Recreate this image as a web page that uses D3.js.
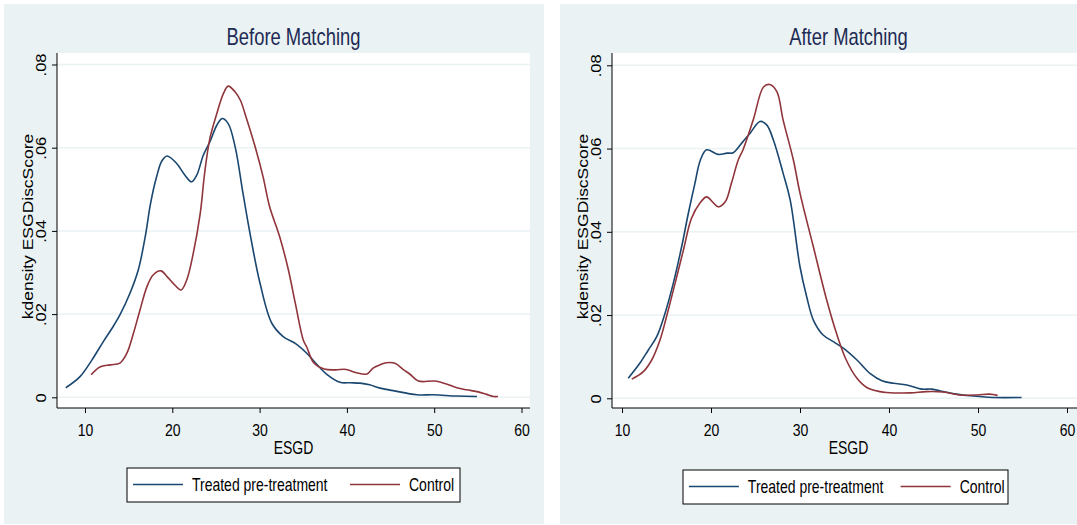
<!DOCTYPE html>
<html>
<head>
<meta charset="utf-8">
<script src="https://cdn.jsdelivr.net/npm/d3@7"></script>
<style>
  body { margin: 0; background: #fff; }
  text { font-family: "Liberation Sans", Arial, sans-serif; }
</style>
</head>
<body>
<script>
// kdensity of ESGD, treated vs control, before and after matching

// ------------------------------------------------ DATA
let xTicks = [10, 20, 30, 40, 50, 60];
let yTicks = [0, 0.02, 0.04, 0.06, 0.08];
let yTickLabels = ['0', '.02', '.04', '.06', '.08'];
let seriesNames = ['Treated pre-treatment', 'Control'];
let panelTitles = ['Before Matching', 'After Matching'];

// [ESGD, density]
let beforeTreated = [
  [7.8,0.0023],[9.4,0.0049],[10.8,0.0090],[12.1,0.0134],[13.1,0.0166],[14.0,0.0198],
  [15.15,0.0250],[16.1,0.0306],[16.9,0.0386],[17.5,0.0465],[18.2,0.0530],[18.8,0.0568],
  [19.4,0.0580],[20.5,0.0562],[21.45,0.0534],[22.2,0.0518],[22.8,0.0534],[23.55,0.0582],
  [24.3,0.0614],[25.1,0.0654],[25.7,0.0670],[26.4,0.0658],[27.2,0.0602],[28.1,0.0490],
  [28.9,0.0394],[30.05,0.0274],[31.4,0.0178],[32.7,0.0146],[34.2,0.0128],[35.4,0.0106],
  [36.3,0.0085],[37.7,0.0055],[39.2,0.0036],[40.4,0.0035],[41.5,0.0034],[42.6,0.0030],
  [43.8,0.0022],[45.3,0.0016],[48.0,0.0006],[49.9,0.0006],[52.6,0.0003],[54.9,0.0002]
];
let beforeControl = [
  [10.7,0.0054],[11.7,0.0073],[12.9,0.0078],[14.0,0.0082],[14.8,0.0106],[15.55,0.0154],
  [16.3,0.0210],[17.1,0.0266],[17.8,0.0294],[18.7,0.0304],[19.4,0.0290],[20.1,0.0274],
  [21.0,0.0258],[21.65,0.0282],[22.4,0.0346],[23.2,0.0442],[23.7,0.0538],[24.3,0.0622],
  [25.1,0.0682],[25.85,0.0730],[26.4,0.0748],[27.2,0.0734],[27.8,0.0714],[28.5,0.0670],
  [29.6,0.0594],[30.4,0.0530],[31.15,0.0458],[32.3,0.0386],[33.3,0.0306],[34.1,0.0225],
  [35.0,0.0138],[35.4,0.0121],[36.2,0.0083],[37.4,0.0068],[38.7,0.0066],[39.9,0.0067],
  [41.1,0.0059],[42.3,0.0056],[43.0,0.0070],[43.8,0.0078],[44.5,0.0083],[45.5,0.0082],
  [46.5,0.0066],[47.2,0.0056],[48.2,0.0039],[50.1,0.0039],[51.4,0.0032],[52.6,0.0023],
  [53.7,0.0018],[55.05,0.0013],[56.0,0.0007],[56.8,0.0002],[57.3,0.0002]
];
let afterTreated = [
  [10.7,0.0048],[12.0,0.0084],[12.96,0.0116],[13.9,0.0148],[14.83,0.0204],[15.76,0.0276],
  [16.7,0.0364],[17.45,0.0444],[18.2,0.0517],[18.8,0.0572],[19.5,0.0597],[20.8,0.0586],
  [21.8,0.0589],[22.5,0.0590],[23.45,0.0613],[24.4,0.0637],[25.5,0.0665],[26.26,0.0657],
  [27.0,0.0621],[28.1,0.0541],[28.9,0.0476],[30.0,0.0316],[30.75,0.0244],[31.5,0.0188],
  [32.6,0.0152],[33.75,0.0136],[34.9,0.0120],[36.4,0.0092],[37.9,0.0059],[39.2,0.0042],
  [40.5,0.0036],[42.0,0.0032],[43.7,0.0022],[44.8,0.0022],[46.1,0.0016],[47.6,0.0010],
  [49.1,0.0006],[51.7,0.0002],[54.9,0.0002]
];
let afterControl = [
  [11.1,0.0046],[12.4,0.0064],[13.34,0.0092],[14.27,0.0140],[15.0,0.0196],[15.96,0.0276],
  [16.9,0.0356],[17.8,0.0432],[18.76,0.0469],[19.5,0.0484],[20.3,0.0469],[20.8,0.0460],
  [21.6,0.0472],[22.3,0.0517],[23.07,0.0573],[23.6,0.0597],[24.75,0.0669],[25.9,0.0748],
  [26.6,0.0754],[27.4,0.0737],[28.1,0.0669],[29.25,0.0573],[30.0,0.0493],[31.5,0.0364],
  [33.0,0.0236],[34.1,0.0156],[35.2,0.0092],[36.4,0.0048],[37.5,0.0026],[39.0,0.0016],
  [39.7,0.0014],[42.4,0.0013],[44.2,0.0016],[46.1,0.0015],[48.0,0.0008],[49.9,0.0008],
  [51.3,0.0010],[52.2,0.0007]
];

// ------------------------------------------------ SETUP
let W = 1077, H = 525;
let bgColor = '#eaf2f3';
let lineColors = ['#1a476f', '#90353b'];
let squeeze = 0.8;   // the original picture is narrow-looking

let svg = d3.select('body').append('svg')
  .attr('width', W)
  .attr('height', H);

// pixel layout of each graph
let panels = [
  { title: panelTitles[0], series: [beforeTreated, beforeControl],
    bx: 4, bw: 540, px0: 57, px1: 530, xr: [85, 521.5], yr: [397.3, 64.5],
    legX: 127, legW: 333, legY: 468 },
  { title: panelTitles[1], series: [afterTreated, afterControl],
    bx: 560, bw: 520, px0: 612, px1: 1085, xr: [622, 1067], yr: [398.3, 65.3],
    legX: 683, legW: 325, legY: 470 }
];

function squeezedText(g, x, y, str, size, anchor, rotate, sq) {
  let s = sq || squeeze;
  let t = g.append('text')
    .attr('transform', `translate(${x},${y}) scale(${s},1)` + (rotate ? ' rotate(-90)' : ''))
    .attr('text-anchor', anchor)
    .attr('font-size', size)
    .attr('fill', '#000')
    .text(str);
  return t;
}

function drawPanel(p) {
  let g = svg.append('g');
  let top = 53, bottom = 408;

  g.append('rect')
    .attr('x', p.bx).attr('y', 4)
    .attr('width', p.bw).attr('height', 520)
    .attr('fill', bgColor);

  g.append('rect')
    .attr('x', p.px0).attr('y', top)
    .attr('width', p.px1 - p.px0).attr('height', bottom - top)
    .attr('fill', '#fff');

  let xScale = d3.scaleLinear().domain([10, 60]).range(p.xr);
  let yScale = d3.scaleLinear().domain([0, 0.08]).range(p.yr);
  let cx = (p.px0 + p.px1) / 2;

  // gridlines
  g.selectAll('.grid')
    .data(yTicks)
    .enter()
    .append('line')
    .attr('x1', p.px0).attr('x2', p.px1)
    .attr('y1', (d) => yScale(d)).attr('y2', (d) => yScale(d))
    .attr('stroke', bgColor)
    .attr('stroke-width', 1.5);

  // y axis
  let yAxis = d3.axisLeft(yScale)
    .tickValues(yTicks)
    .tickSize(5)
    .tickFormat((d, i) => yTickLabels[i]);
  let yAxisGroup = g.append('g')
    .attr('transform', `translate(${p.px0}, 0)`)
    .call(yAxis);
  yAxisGroup.select('.domain').attr('d', `M0,${top}V${bottom}`).attr('stroke', '#000');
  yAxisGroup.selectAll('.tick line').attr('stroke', '#000');
  yAxisGroup.selectAll('.tick text').remove();
  yAxisGroup.selectAll('.tick').each(function(d, i) {
    squeezedText(d3.select(this), -11, 0, yTickLabels[i], 16.5, 'middle', true, 0.85);
  });

  // x axis
  let xAxis = d3.axisBottom(xScale)
    .tickValues(xTicks)
    .tickSize(5);
  let xAxisGroup = g.append('g')
    .attr('transform', `translate(0, ${bottom})`)
    .call(xAxis);
  xAxisGroup.select('.domain').attr('d', `M${p.px0},0H${p.px1}`).attr('stroke', '#000');
  xAxisGroup.selectAll('.tick line').attr('stroke', '#000');
  xAxisGroup.selectAll('.tick text').remove();
  xAxisGroup.selectAll('.tick').each(function(d) {
    squeezedText(d3.select(this), 0, 28, String(d), 16.5, 'middle', false, 0.85);
  });

  // curves
  let line = d3.line()
    .x((d) => xScale(d[0]))
    .y((d) => yScale(d[1]))
    .curve(d3.curveCatmullRom.alpha(0.5));

  g.selectAll('.curve')
    .data(p.series)
    .enter()
    .append('path')
    .attr('d', line)
    .attr('fill', 'none')
    .attr('stroke', (d, i) => lineColors[i])
    .attr('stroke-width', 1.6);

  // titles
  squeezedText(g, cx, 45, p.title, 23, 'middle', false).attr('fill', '#1e2b55');
  squeezedText(g, cx, 454, 'ESGD', 17.5, 'middle', false);
  squeezedText(g, p.px0 - 24, (top + bottom) / 2 - 4, 'kdensity ESGDiscScore', 17.5, 'middle', true);

  // legend
  let k = p.legW / 333;
  let leg = g.append('g').attr('transform', `translate(${p.legX}, ${p.legY})`);
  leg.append('rect')
    .attr('x', 0).attr('y', 0)
    .attr('width', p.legW).attr('height', 34)
    .attr('fill', '#fff')
    .attr('stroke', '#000')
    .attr('stroke-width', 1);
  let entryX = [6, 223];
  seriesNames.forEach(function(name, i) {
    leg.append('line')
      .attr('x1', entryX[i] * k).attr('x2', entryX[i] * k + 50)
      .attr('y1', 16.5).attr('y2', 16.5)
      .attr('stroke', lineColors[i])
      .attr('stroke-width', 1.6);
    squeezedText(leg, entryX[i] * k + 59, 23, name, 17.5, 'start', false);
  });
}

panels.forEach(drawPanel);
</script>
</body>
</html>
